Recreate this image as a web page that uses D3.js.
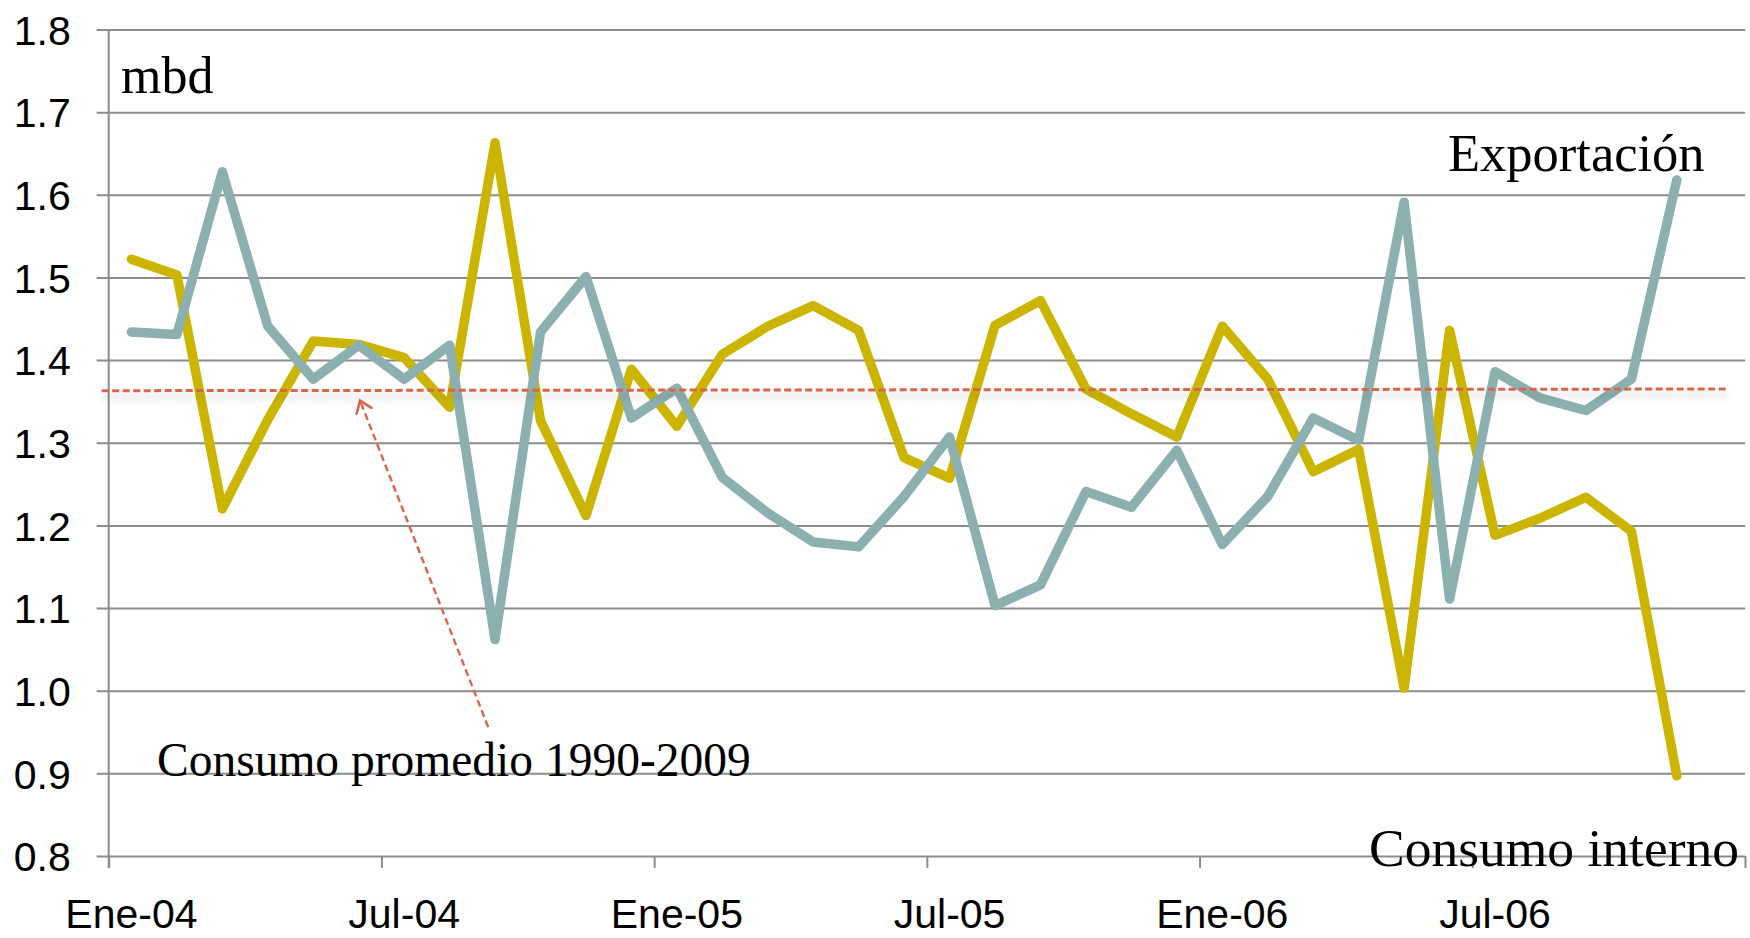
<!DOCTYPE html>
<html>
<head>
<meta charset="utf-8">
<script src="https://cdn.jsdelivr.net/npm/d3@7"></script>
<style>
  html, body { margin: 0; padding: 0; background: #fff; }
  svg { display: block; }
</style>
</head>
<body>
<svg id="chart" width="1750" height="938"></svg>
<script>
// ---- data ----
const months = [
  "Ene-04","Feb-04","Mar-04","Abr-04","May-04","Jun-04","Jul-04","Ago-04","Sep-04","Oct-04","Nov-04","Dic-04",
  "Ene-05","Feb-05","Mar-05","Abr-05","May-05","Jun-05","Jul-05","Ago-05","Sep-05","Oct-05","Nov-05","Dic-05",
  "Ene-06","Feb-06","Mar-06","Abr-06","May-06","Jun-06","Jul-06","Ago-06","Sep-06","Oct-06","Nov-06","Dic-06"
];
const consumoInterno = [
  1.522, 1.503, 1.220, 1.328, 1.423, 1.419, 1.403, 1.343, 1.663, 1.327, 1.212, 1.389,
  1.320, 1.407, 1.441, 1.466, 1.436, 1.282, 1.257, 1.442, 1.472, 1.365, 1.335, 1.307,
  1.441, 1.377, 1.265, 1.292, 1.003, 1.436, 1.188, 1.209, 1.234, 1.193, 0.897, null
];
const exportacion = [
  1.434, 1.431, 1.628, 1.441, 1.377, 1.418, 1.377, 1.418, 1.062, 1.434, 1.501, 1.330,
  1.366, 1.258, 1.215, 1.180, 1.174, 1.235, 1.307, 1.103, 1.128, 1.241, 1.222, 1.291,
  1.177, 1.235, 1.330, 1.303, 1.591, 1.111, 1.386, 1.354, 1.339, 1.377, 1.618, null
];
const xTickLabels = ["Ene-04","Jul-04","Ene-05","Jul-05","Ene-06","Jul-06"];
const yTicks = [0.8, 0.9, 1.0, 1.1, 1.2, 1.3, 1.4, 1.5, 1.6, 1.7, 1.8];
const promedioLine = [1.363, 1.365];          // consumo promedio 1990-2009 (left, right)
const arrowFrom = [8.35, 0.956];               // [month index, value]
const arrowTo = [5.53, 1.351];

(function () {
// ---- layout ----
const svg = d3.select("#chart");
const pL = 108.7, pR = 1745, pT = 29.5, pB = 856;

const x = d3.scaleBand().domain(months).range([pL, pR]).padding(0);
const xi = d3.scaleLinear().domain([0, months.length]).range([pL, pR]);
const y = d3.scaleLinear().domain([0.8, 1.8]).range([pB, pT]);
const cx = m => x(m) + x.bandwidth() / 2;

const defs = svg.append("defs");
const shadow = defs.append("filter").attr("id", "shadow")
  .attr("x", "-5%").attr("y", "-2000%").attr("width", "110%").attr("height", "5000%")
  .attr("filterUnits", "objectBoundingBox");
shadow.append("feDropShadow").attr("dx", 0).attr("dy", 6).attr("stdDeviation", 3.5)
  .attr("flood-color", "#000").attr("flood-opacity", 0.22);
defs.append("marker").attr("id", "head")
  .attr("viewBox", "-12 -10 16 20").attr("markerWidth", 16).attr("markerHeight", 20)
  .attr("markerUnits", "userSpaceOnUse").attr("refX", 0).attr("refY", 0).attr("orient", "auto")
  .append("path").attr("d", "M-11,-8 L0,0 L-11,8")
  .attr("fill", "none").attr("stroke", "#d9654b").attr("stroke-width", 2.6)
  .attr("stroke-linecap", "round").attr("stroke-linejoin", "miter");

// ---- y axis / gridlines ----
const yAxis = d3.axisLeft(y).tickValues(yTicks).tickFormat(d3.format(".1f"))
  .tickSize(-(pR - pL)).tickPadding(26);
const gy = svg.append("g").attr("transform", `translate(${pL},0)`).call(yAxis);
gy.select(".domain").remove();
gy.selectAll(".tick line").attr("x1", -12).attr("x2", pR - pL)
  .attr("stroke", "#8c8c8c").attr("stroke-width", 2);
gy.selectAll(".tick text").attr("x", -38).attr("dy", "0.36em")
  .attr("font-family", "'Liberation Sans', Arial, sans-serif").attr("font-size", 41)
  .attr("fill", "#000");

// vertical axis line
svg.append("line").attr("x1", pL).attr("x2", pL).attr("y1", pT).attr("y2", pB + 12)
  .attr("stroke", "#8c8c8c").attr("stroke-width", 2);

// ---- x axis ----
const tickIdx = d3.range(0, months.length + 1, 6);
const gxt = svg.append("g").attr("transform", `translate(0,${pB})`)
  .call(d3.axisBottom(xi).tickValues(tickIdx).tickFormat("").tickSize(12));
gxt.select(".domain").remove();
gxt.selectAll(".tick line").attr("stroke", "#8c8c8c").attr("stroke-width", 2);

const gx = svg.append("g").attr("transform", `translate(0,${pB})`)
  .call(d3.axisBottom(x).tickValues(xTickLabels).tickSize(0));
gx.select(".domain").remove();
gx.selectAll(".tick text").attr("y", 72).attr("dy", 0)
  .attr("font-family", "'Liberation Sans', Arial, sans-serif").attr("font-size", 41)
  .attr("fill", "#000");

// ---- series ----
const line = d3.line().defined(d => d.v != null).x(d => cx(d.m)).y(d => y(d.v));
const toPts = arr => months.map((m, i) => ({ m, v: arr[i] }));

svg.append("path").datum(toPts(consumoInterno)).attr("d", line)
  .attr("fill", "none").attr("stroke", "#ccb500").attr("stroke-width", 9.5)
  .attr("stroke-linejoin", "round").attr("stroke-linecap", "round");
svg.append("path").datum(toPts(exportacion)).attr("d", line)
  .attr("fill", "none").attr("stroke", "#8cafaf").attr("stroke-width", 9.5)
  .attr("stroke-linejoin", "round").attr("stroke-linecap", "round");

// ---- average line ----
svg.append("line")
  .attr("x1", pL - 7).attr("x2", 1727)
  .attr("y1", y(promedioLine[0])).attr("y2", y(promedioLine[1]))
  .attr("stroke", "#d9654b").attr("stroke-width", 3).attr("stroke-dasharray", "7 3.5")
  .attr("filter", "url(#shadow)");

// ---- arrow ----
svg.append("line")
  .attr("x1", xi(arrowFrom[0])).attr("y1", y(arrowFrom[1]))
  .attr("x2", xi(arrowTo[0])).attr("y2", y(arrowTo[1]))
  .attr("stroke", "#d9654b").attr("stroke-width", 2.4).attr("stroke-dasharray", "7 4")
  .attr("marker-end", "url(#head)");

// ---- text labels ----
const serif = "'Liberation Serif', 'Times New Roman', serif";
svg.append("text").attr("x", 121).attr("y", 93).text("mbd")
  .attr("font-family", serif).attr("font-size", 52).attr("fill", "#000");
svg.append("text").attr("x", 1448).attr("y", 171).text("Exportación")
  .attr("font-family", serif).attr("font-size", 52.5).attr("fill", "#000");
svg.append("text").attr("x", 1369).attr("y", 866).text("Consumo interno")
  .attr("font-family", serif).attr("font-size", 53.5).attr("fill", "#000");
svg.append("text").attr("x", 157).attr("y", 776).text("Consumo promedio 1990-2009")
  .attr("font-family", serif).attr("font-size", 47.5).attr("fill", "#000");
})();
</script>
</body>
</html>
